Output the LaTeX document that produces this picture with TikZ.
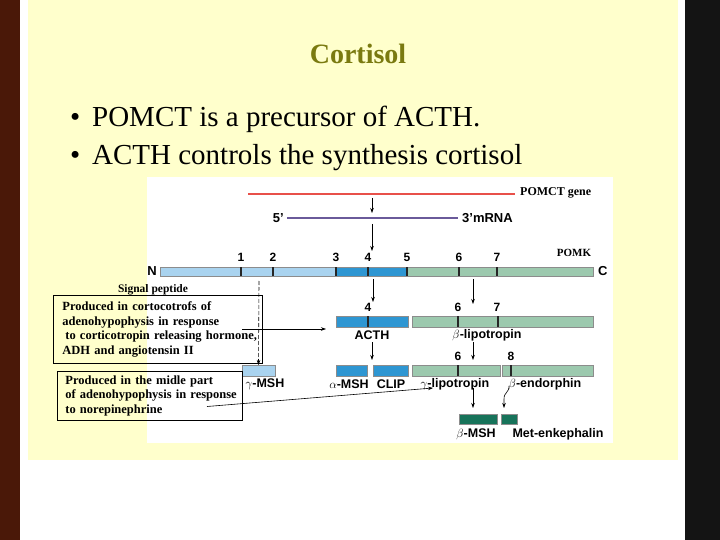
\documentclass[tikz,border=0pt]{standalone}
\usepackage{fontspec}
\setmainfont{Liberation Serif}
\setsansfont{Liberation Sans}
\usepackage{tikz}
\usetikzlibrary{arrows.meta,positioning}

\definecolor{slidebg}{HTML}{FFFFCC}
\definecolor{leftbar}{HTML}{4A1808}
\definecolor{titlecol}{HTML}{7A7A10}
\definecolor{lblue}{HTML}{A9D3EF}
\definecolor{mblue}{HTML}{2E96D2}
\definecolor{lgreen}{HTML}{9CC9AE}
\definecolor{dgreen}{HTML}{17735A}
\definecolor{genered}{HTML}{E8504A}
\definecolor{rnapurple}{HTML}{6A5A9A}

\begin{document}
\begin{tikzpicture}[
    x=1pt, y=-1pt,
    bar/.style={rectangle, draw=black!45, line width=0.4pt, inner sep=0pt, outer sep=0pt, minimum height=9pt},
    rowbar/.style={bar, minimum height=11pt},
    tick/.style={line width=1.6pt, draw=black!85},
    num/.style={font=\sffamily\bfseries\fontsize{12}{12}\selectfont, inner sep=0pt},
    lbl/.style={font=\sffamily\bfseries\fontsize{12.5}{12.5}\selectfont, inner sep=0pt},
    end/.style={font=\sffamily\bfseries\fontsize{13}{13}\selectfont, inner sep=0pt},
    tag/.style={font=\rmfamily\bfseries\fontsize{12}{12}\selectfont, inner sep=0pt},
    note/.style={draw=black, line width=0.8pt, align=left, anchor=north west, inner ysep=0pt,
        font=\rmfamily\bfseries\fontsize{12.5}{14.5}\selectfont},
    bullet/.style={anchor=base west, inner sep=0pt, font=\rmfamily\fontsize{29}{29}\selectfont},
    arr/.style={-{Stealth[length=5pt,width=3.5pt]}, line width=0.6pt},
    darr/.style={arr, dash pattern=on 4pt off 2pt}
]

% slide background
\fill[white] (0,0) rectangle (720,540);
\fill[leftbar] (0,0) rectangle (20,540);
\fill[black!92] (685,0) rectangle (720,540);
\fill[slidebg] (28,0) rectangle (678,460);
\fill[white] (147,177) rectangle (613,443);

% title and bullets
\node[font=\rmfamily\bfseries\fontsize{28}{28}\selectfont, text=titlecol] (title) at (358,54) {Cortisol};
\node[bullet] (b1) at (70,127) {\makebox[22pt][l]{\textbullet}POMCT is a precursor of ACTH.};
\node[bullet] (b2) at (70,165) {\makebox[22pt][l]{\textbullet}ACTH controls the synthesis cortisol};

% gene and mRNA
\coordinate (geneL) at (248,194);
\coordinate (geneR) at (515,194);
\draw[genered, line width=2pt] (geneL) -- (geneR);
\node[tag, anchor=west] (genetag) at (520,193) {POMCT gene};

\coordinate (rnaL) at (287,218);
\coordinate (rnaR) at (458,218);
\draw[rnapurple, line width=1.6pt] (rnaL) -- (rnaR);
\node[end, anchor=east] (five) at (284,218) {5’};
\node[end, anchor=west] (three) at (462,218) {3’mRNA};

\coordinate (g1) at (372,198);
\coordinate (g2) at (372,213);
\draw[arr] (g1) -- (g2);
\coordinate (m1) at (372,224);
\coordinate (m2) at (372,251);
\draw[arr] (m1) -- (m2);

% POMK precursor
\node[bar, fill=lblue, minimum width=176pt, anchor=north west] (pomkA) at (160,267) {};
\node[bar, fill=mblue, minimum width=71pt, right=0pt of pomkA] (pomkB) {};
\node[bar, fill=lgreen, minimum width=186pt, right=0pt of pomkB] (pomkC) {};
\foreach \px/\n in {241/1,273/2,336/3,368/4,407/5,459/6,497/7} {
    \draw[tick] (\px,267) -- (\px,276);
    \node[num] at (\px,257) {\n};
}
\node[end, left=3pt of pomkA] (nterm) {N};
\node[end, right=5pt of pomkC] (cterm) {C};
\node[tag, font=\rmfamily\bfseries\fontsize{11}{11}\selectfont] (pomktag) at (574,253) {POMK};

% ACTH and beta-lipotropin
\node[rowbar, fill=mblue, minimum width=72pt, anchor=north west] (acth) at (336,316) {};
\node[rowbar, fill=lgreen, minimum width=181pt, anchor=north west] (blipo) at (412,316) {};
\draw[tick] (368,316) -- (368,327);
\draw[tick] (458,316) -- (458,327);
\draw[tick] (498,316) -- (498,327);
\node[num] at (368,307) {4};
\node[num] at (458,307) {6};
\node[num] at (497,307) {7};
\node[lbl] (acthtag) at (372,335) {ACTH};
\node[lbl] (blipotag) at (487,335) {$\beta$-lipotropin};

\draw[arr] (373,279) -- (373,302);
\draw[arr] (473,279) -- (473,304);

% third row
\node[rowbar, fill=lblue, minimum width=33pt, anchor=north west] (gmsh) at (242,365) {};
\node[rowbar, fill=mblue, minimum width=31pt, anchor=north west] (amsh) at (336,365) {};
\node[rowbar, fill=mblue, minimum width=35pt, anchor=north west] (clip) at (373,365) {};
\node[rowbar, fill=lgreen, minimum width=88pt, anchor=north west] (glipo) at (412,365) {};
\node[rowbar, fill=lgreen, minimum width=91pt, anchor=north west] (bendo) at (502,365) {};
\draw[tick] (458,365) -- (458,376);
\draw[tick] (511,365) -- (511,376);
\node[num] at (458,356) {6};
\node[num] at (511,356) {8};
\node[lbl] (gmshtag) at (265,384) {$\gamma$-MSH};
\node[lbl] (amshtag) at (349,384) {$\alpha$-MSH};
\node[lbl] (cliptag) at (391,384) {CLIP};
\node[lbl] (glipotag) at (455,384) {$\gamma$-lipotropin};
\node[lbl] (bendotag) at (545,384) {$\beta$-endorphin};

\draw[arr] (372,342) -- (372,360);
\draw[arr] (473,342) -- (473,360);

% fourth row
\node[rowbar, fill=dgreen, minimum height=10pt, minimum width=38pt, anchor=north west] (bmsh) at (459,414) {};
\node[rowbar, fill=dgreen, minimum height=10pt, minimum width=16pt, anchor=north west] (menk) at (501,414) {};
\node[lbl] (bmshtag) at (476,434) {$\beta$-MSH};
\node[lbl] (menktag) at (558,434) {Met-enkephalin};

\draw[arr] (473,388) -- (473,408);
\draw[arr] (509,386) .. controls (509,393) and (504,392) .. (504,399) -- (504,408);

% signal peptide
\node[tag, font=\rmfamily\bfseries\fontsize{11.5}{11.5}\selectfont] (sigtag) at (153,290) {Signal peptide};
\coordinate (sigtop) at (259,281);
\draw[darr] (sigtop) -- (gmsh.north);

% notes
\node[note, minimum width=209pt, minimum height=68pt, text width=191pt, inner xsep=9pt] (note1) at (53,295)
    {\mbox{Produced in cortocotrofs of}\\\mbox{adenohypophysis in response}\\\mbox{\hspace{3pt}to corticotropin releasing hormone,}\\\mbox{ADH and angiotensin II}};
\node[note, minimum width=185pt, minimum height=49pt, text width=169pt, inner xsep=8pt] (note2) at (57,371)
    {\mbox{Produced in the midle part}\\\mbox{of adenohypophysis in response}\\\mbox{to norepinephrine}};

\coordinate (n1out) at (242,329);
\draw[arr] (n1out) -- (acth.west |- n1out) [shorten >=10pt];
\coordinate (n2out) at (207,406.5);
\coordinate (glipoin) at (433,388);
\draw[arr] (n2out) -- (glipoin);

\end{tikzpicture}
\end{document}
